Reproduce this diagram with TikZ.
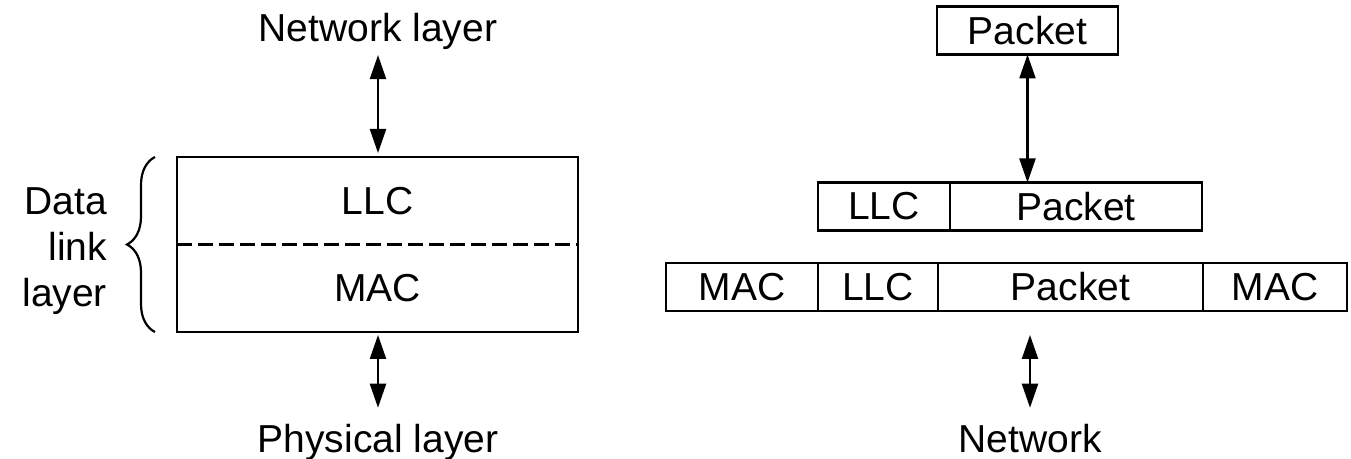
\documentclass[tikz,border=0pt]{standalone}
\usepackage{fontspec}
\setmainfont{Liberation Sans}
\usetikzlibrary{arrows.meta,positioning,decorations.pathreplacing}

\begin{document}
\begin{tikzpicture}[x=0.5pt,y=-0.5pt,font=\fontsize{19.5}{23}\selectfont,
  cell/.style={draw,line width=1.3pt,inner sep=0pt,outer sep=0pt,minimum height=24pt},
  lbl/.style={inner sep=0pt,outer sep=0pt},
  dblarrow/.style={{Triangle[length=12pt,width=8pt]}-{Triangle[length=12pt,width=8pt]},line width=1.1pt}]
\useasboundingbox (0,0) rectangle (1351,459);
% left: the two sublayers
\node[lbl,anchor=base] (netl) at (378,42){Network layer};
\node[lbl,minimum width=200.5pt,minimum height=44pt] (llc) at (377.5,201){LLC};
\node[lbl,minimum width=200.5pt,minimum height=43.5pt,below=0pt of llc] (mac){MAC};
\draw[line width=1.3pt] (llc.north west) rectangle (mac.south east);
\draw[line width=1.5pt,dash pattern=on 7.5pt off 3pt] (llc.south west)--(llc.south east);
\node[lbl,align=right,anchor=east] (dll) at (107,251){Data\\link\\layer};
\draw[line width=1.1pt,decorate,decoration={brace,amplitude=14pt}] ([xshift=-11pt]mac.south west)--([xshift=-11pt]llc.north west);
\node[lbl,anchor=base] (phl) at (378,453){Physical layer};
\draw[dblarrow,shorten <=2.5pt,shorten >=2pt] (netl.south)--(netl.south |- llc.north);
\draw[dblarrow,shorten <=1.5pt,shorten >=8.5pt] (phl.north |- mac.south)--(phl.north);
% right: frames
\node[cell,minimum width=90.5pt] (pkt1) at (1027.5,30.5){Packet};
\node[cell,minimum width=66pt] (llc1) at (884,206.5){LLC};
\node[cell,minimum width=126pt,right=0pt of llc1] (pkt2){Packet};
\node[cell,minimum width=76pt] (mac1) at (742,287){MAC};
\node[cell,minimum width=60pt,right=0pt of mac1] (llc2){LLC};
\node[cell,minimum width=132.5pt,right=0pt of llc2] (pkt3){Packet};
\node[cell,minimum width=72pt,right=0pt of pkt3] (mac2){MAC};
\node[lbl,anchor=base] (net) at (1030,453){Network};
\draw[dblarrow] (pkt1.south)--(pkt1.south |- pkt2.north);
\draw[dblarrow,shorten <=12pt,shorten >=8.5pt] (net.north |- pkt3.south)--(net.north);
\end{tikzpicture}
\end{document}
